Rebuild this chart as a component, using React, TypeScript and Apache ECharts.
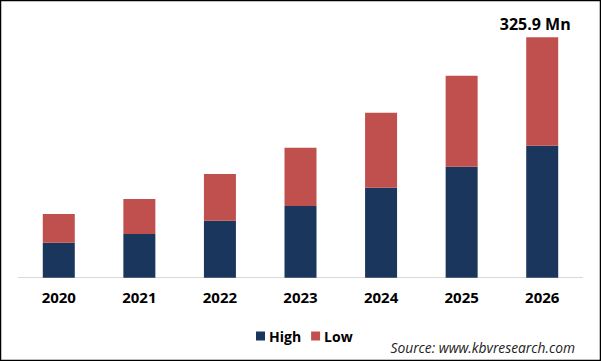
import React, { useEffect, useRef } from "react";
import * as echarts from "echarts";

const categories = ["2020", "2021", "2022", "2023", "2024", "2025", "2026"];
const highValues = [47.4, 59.2, 77.3, 97.2, 122.0, 150.5, 179.0];
const lowValues = [39.0, 47.5, 63.3, 79.0, 101.7, 123.4, 146.9];
const topLabel = "325.9 Mn";

export default function App() {
  const ref = useRef<HTMLDivElement>(null);
  useEffect(() => {
    if (!ref.current) return;
    const chart = echarts.init(ref.current, undefined, { renderer: "svg" });
    const font = "'Open Sans', sans-serif";
    chart.setOption({
      animation: false,
      backgroundColor: "#ffffff",
      grid: { left: 18.5, right: 18.5, top: 37.3, bottom: 83.3, containLabel: false },
      legend: {
        data: ["High", "Low"],
        left: 251,
        top: 324,
        itemWidth: 9,
        itemHeight: 9,
        itemGap: 10,
        icon: "rect",
        textStyle: { fontFamily: font, fontWeight: "bold", fontSize: 14, color: "#000", padding: [0, 0, 0, -1] },
      },
      xAxis: {
        type: "category",
        data: categories,
        axisLine: { lineStyle: { color: "#d9d9d9", width: 1 } },
        axisTick: { show: false },
        axisLabel: { fontFamily: font, fontWeight: "bold", fontSize: 15, color: "#000", margin: 12 },
      },
      yAxis: {
        type: "value",
        min: 0,
        max: 325.9,
        show: false,
        splitLine: { show: false },
      },
      series: [
        {
          name: "High",
          type: "bar",
          stack: "total",
          barWidth: 32,
          data: highValues,
          itemStyle: { color: "#1b365d" },
        },
        {
          name: "Low",
          type: "bar",
          stack: "total",
          barWidth: 32,
          data: lowValues.map((v, i) =>
            i === lowValues.length - 1
              ? {
                  value: v,
                  label: {
                    show: true,
                    position: "top",
                    formatter: topLabel,
                    offset: [-7, 0],
                    distance: 5,
                    fontFamily: font,
                    fontWeight: "bold",
                    fontSize: 16,
                    color: "#000",
                  },
                }
              : v
          ),
          itemStyle: { color: "#c0504d" },
        },
      ],
      graphic: [
        {
          type: "rect",
          shape: { x: 0.5, y: 0.5, width: 600, height: 360 },
          style: { fill: "none", stroke: "#000", lineWidth: 1.5 },
          silent: true,
        },
        {
          type: "text",
          right: 26,
          top: 340,
          style: {
            text: "Source: www.kbvresearch.com",
            fontFamily: font,
            fontStyle: "italic",
            fontSize: 13.8,
            fill: "#222",
          },
        },
      ],
    });
    return () => chart.dispose();
  }, []);
  return (
    <div
      ref={ref}
      style={{ position: "fixed", left: 0, top: 0, width: 601, height: 361 }}
    />
  );
}
